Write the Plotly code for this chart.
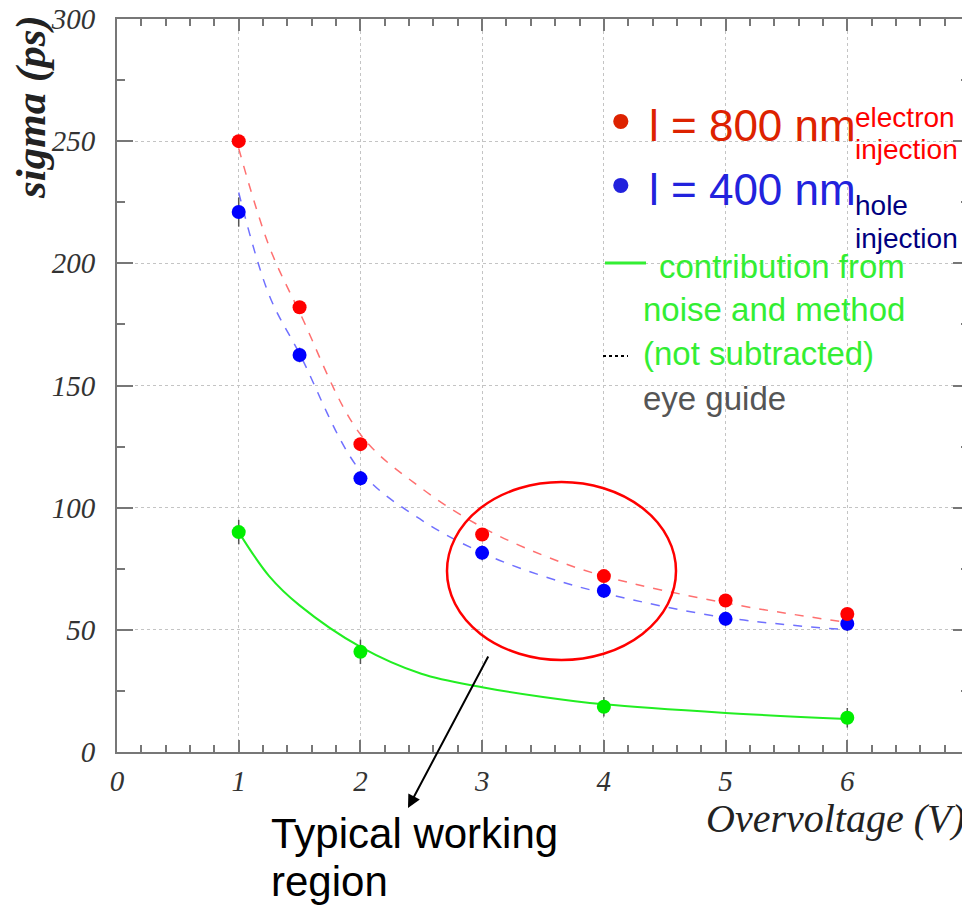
import plotly.graph_objects as go

# ---- data ----
red_x = [1, 1.5, 2, 3, 4, 5, 6]
red_y = [250, 182, 126, 89, 72, 62, 56.5]
blue_x = [1, 1.5, 2, 3, 4, 5, 6]
blue_y = [221, 162.5, 112, 81.5, 66, 54.5, 52.5]
blue_err = [6, 3, 3, 3, 3, 3, 3]
green_x = [1, 2, 4, 6]
green_y = [90, 41, 18.5, 14]
green_err = [5, 5, 4, 4]

guide_x = [1, 1.25, 1.5, 2, 2.5, 3, 3.5, 4, 5, 6]
red_guide = [247, 207, 180, 130, 108, 92, 80.5, 72, 61, 53]
blue_guide = [229, 187, 163, 115, 95, 81.5, 72, 65, 55, 50]
green_guide = [90, 72, 60, 43, 32, 26.5, 22.5, 19.5, 16, 13.5]

x_ticks = [0, 1, 2, 3, 4, 5, 6, 7]
y_ticks = [0, 50, 100, 150, 200, 250, 300]

# the page body has an 8px default margin; size the figure so that the
# plot area lands at page pixels x 117..969, y 19..752
OFF = 8
W, H = 962, 899
L, R, T, B = 109, 1, 11, 155
X0, X1, Y0, Y1 = 0, 7, 0, 300
PW, PH = W - L - R, H - T - B


def px2x(px):
    return X0 + (px - OFF - L) / PW * (X1 - X0)


def py2y(py):
    return Y0 + (H - B - (py - OFF)) / PH * (Y1 - Y0)


def ppx(px):
    return (px - OFF - L) / PW


def ppy(py):
    return (H - B - (py - OFF)) / PH


fig = go.Figure()

fig.add_trace(go.Scatter(x=guide_x, y=red_guide, mode="lines", line_shape="spline",
                         line=dict(color="#ff7070", width=1.5, dash="dash"), showlegend=False))
fig.add_trace(go.Scatter(x=guide_x, y=blue_guide, mode="lines", line_shape="spline",
                         line=dict(color="#7070ff", width=1.5, dash="dash"), showlegend=False))
fig.add_trace(go.Scatter(x=guide_x, y=green_guide, mode="lines", line_shape="spline",
                         line=dict(color="#22ee22", width=2), showlegend=False))

fig.add_trace(go.Scatter(x=green_x, y=green_y, mode="markers",
                         marker=dict(color="#00ee00", size=14),
                         error_y=dict(type="data", array=green_err, color="#555555", thickness=1.5, width=0),
                         showlegend=False))
fig.add_trace(go.Scatter(x=blue_x, y=blue_y, mode="markers",
                         marker=dict(color="#0000ff", size=14),
                         error_y=dict(type="data", array=blue_err, color="#555555", thickness=1.5, width=0),
                         showlegend=False))
fig.add_trace(go.Scatter(x=red_x, y=red_y, mode="markers",
                         marker=dict(color="#ff0000", size=14), showlegend=False))

tickfont = dict(family="Liberation Serif", size=29, color="#333333", style="italic")

fig.update_xaxes(range=[X0, X1], tickvals=x_ticks, ticks="inside", ticklen=12, tickwidth=1.5,
                 tickcolor="#777777", showline=True, linecolor="#777777", linewidth=2, mirror="ticks",
                 showgrid=True, gridcolor="#c4c4c4", griddash="dot", gridwidth=1,
                 minor=dict(dtick=0.2, ticks="inside", ticklen=7, tickcolor="#777777", showgrid=False),
                 tickfont=tickfont, zeroline=False, ticklabelstandoff=2, automargin=False,
                 ticklabeloverflow="allow")
fig.update_yaxes(range=[Y0, Y1], tickvals=y_ticks, ticks="inside", ticklen=16, tickwidth=1.5,
                 tickcolor="#777777", showline=True, linecolor="#777777", linewidth=2, mirror="ticks",
                 showgrid=True, gridcolor="#c4c4c4", griddash="dot", gridwidth=1,
                 minor=dict(dtick=25, ticks="inside", ticklen=8, tickcolor="#777777", showgrid=False),
                 tickfont=tickfont, zeroline=False, ticklabelstandoff=14, automargin=False,
                 ticklabeloverflow="allow")

ann = []
ann.append(dict(text="<b><i>sigma (ps)</i></b>", xref="paper", yref="paper", x=ppx(31), y=ppy(107),
                textangle=-90, showarrow=False, xanchor="center", yanchor="middle",
                font=dict(family="Liberation Serif", size=43, color="#222222")))
ann.append(dict(text="<i>Overvoltage (V)</i>", xref="paper", yref="paper", x=ppx(967), y=ppy(818),
                showarrow=False, xanchor="right", yanchor="middle",
                font=dict(family="Liberation Serif", size=40, color="#222222")))

sans = "Liberation Sans"


def txt(s, px, py, color, size):
    ann.append(dict(text=s, x=ppx(px), y=ppy(py), xref="paper", yref="paper", showarrow=False,
                    xanchor="left", yanchor="middle", align="left",
                    font=dict(family=sans, size=size, color=color)))


txt("•", 609, 121, "#dd2200", 56)
txt("l = 800 nm", 647, 125, "#dd2200", 44)
txt("electron", 853, 117, "#ff0000", 28)
txt("injection", 853, 149, "#ff0000", 28)
txt("•", 609, 185, "#2222dd", 56)
txt("l = 400 nm", 647, 189, "#2222dd", 44)
txt("hole", 853, 205, "#000080", 28)
txt("injection", 853, 238, "#000080", 28)
txt("contribution from", 657, 266, "#33ee33", 33)
txt("noise and method", 641, 309, "#33ee33", 33)
txt("(not subtracted)", 641, 353, "#33ee33", 33)
txt("eye guide", 641, 398, "#555555", 33)
txt("Typical working", 269, 834, "#000000", 42)
txt("region", 269, 881, "#000000", 42)

# arrow
ann.append(dict(x=px2x(408), y=py2y(808), ax=px2x(489), ay=py2y(655), xref="x", yref="y",
                axref="x", ayref="y", showarrow=True, arrowhead=2, arrowsize=1.3, arrowwidth=2,
                arrowcolor="#000000", text=""))

shapes = [
    dict(type="circle", xref="x", yref="y", x0=px2x(447), x1=px2x(676), y0=py2y(660), y1=py2y(482),
         line=dict(color="#ff0000", width=2.5)),
    dict(type="line", xref="paper", yref="paper", x0=ppx(605), x1=ppx(646), y0=ppy(263), y1=ppy(263),
         line=dict(color="#33ee33", width=3)),
    dict(type="line", xref="paper", yref="paper", x0=ppx(603), x1=ppx(628), y0=ppy(356), y1=ppy(356),
         line=dict(color="#000000", width=2, dash="dot")),
]

fig.update_layout(width=W, height=H, margin=dict(l=L, r=R, t=T, b=B),
                  plot_bgcolor="white", paper_bgcolor="white",
                  annotations=ann, shapes=shapes, showlegend=False)

fig.write_html("out.html")
